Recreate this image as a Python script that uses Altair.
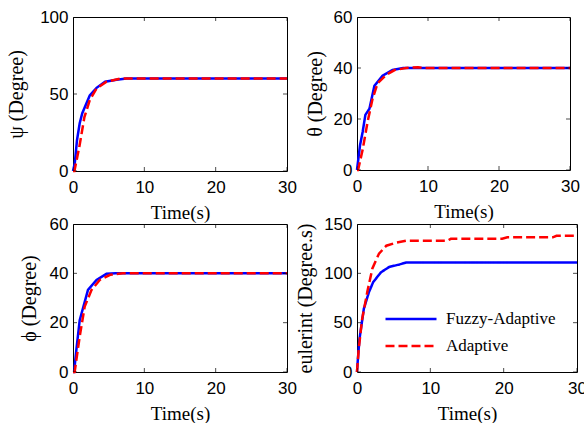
import altair as alt
import pandas as pd

TIME_TICKS = [0, 10, 20, 30]
SERIES = ["Fuzzy-Adaptive", "Adaptive"]
BLUE = "#0000ff"
RED = "#ff0000"

# psi panel
psi_fuzzy_t = [0, 0.25, 0.56, 0.94, 1.3, 2.35, 3.3, 4.5, 6.1, 7.5, 30]
psi_fuzzy_v = [0, 5, 20, 31, 37.5, 49, 54, 58, 59.3, 60, 60]
psi_adapt_t = [0, 0.2, 0.9, 1.6, 2.35, 3.3, 4.7, 6.6, 30]
psi_adapt_v = [0, 0, 16, 35, 46, 53.5, 58, 60, 60]
psi_ticks = [0, 50, 100]

# theta panel
theta_fuzzy_t = [0, 0.42, 0.8, 1.18, 1.75, 2.45, 3.6, 5.0, 6.5, 30]
theta_fuzzy_v = [0, 9.6, 15, 21.6, 24, 33, 37, 39.2, 40, 40]
theta_adapt_t = [0, 0.15, 0.8, 1.5, 2.2, 2.9, 4.1, 5.3, 6.9, 8.6, 9.5, 30]
theta_adapt_v = [0, 0, 8, 19, 28, 34, 37.3, 39.2, 40, 40.3, 40, 40]
theta_ticks = [0, 20, 40, 60]

# phi panel
phi_fuzzy_t = [0, 0.15, 0.47, 0.94, 2.1, 3.3, 4.7, 6.0, 30]
phi_fuzzy_v = [0, 0, 9, 21, 33.3, 37.3, 39.8, 40, 40]
phi_adapt_t = [0, 0.23, 0.94, 1.64, 2.6, 3.75, 5.2, 7.0, 30]
phi_adapt_v = [0, 0, 14.4, 26.5, 33.3, 37.3, 39.4, 40, 40]
phi_ticks = [0, 20, 40, 60]

# eulerint panel
eul_fuzzy_t = [0, 0.1, 0.33, 0.93, 1.63, 2.2, 3.26, 4.4, 5.8, 6.7, 30]
eul_fuzzy_v = [0, 11, 33, 64, 81, 91, 101, 106.5, 109, 111, 111]
eul_adapt_t = [0, 0.23, 0.7, 1.4, 2.1, 3.0, 4.0, 5.3, 6.7, 12.3, 12.8, 19.8, 20.5, 26.7, 27.2, 30]
eul_adapt_v = [0, 23, 53.6, 81, 105, 120, 128, 131, 133, 133, 135, 135, 136.5, 136.5, 138, 138]
eul_ticks = [0, 50, 100, 150]


def series_df(tf, vf, ta, va):
    return pd.DataFrame({
        "t": tf + ta,
        "v": vf + va,
        "s": [SERIES[0]] * len(tf) + [SERIES[1]] * len(ta),
    })


def panel(df, yticks, ytitle, w, h, ypad=8, legend=False):
    ymax = yticks[-1]
    xaxis = alt.Axis(values=TIME_TICKS, title="Time(s)", ticks=False, tickSize=0, domain=False, grid=False,
                     labelFont="Liberation Sans", labelFontSize=17, labelColor="black", labelPadding=8,
                     titleFont="Liberation Serif", titleFontSize=19, titleFontWeight="normal",
                     titleColor="black", titlePadding=8, labelFlush=False)
    yaxis = alt.Axis(values=yticks, title=ytitle, ticks=False, tickSize=0, domain=False, grid=False,
                     labelFont="Liberation Sans", labelFontSize=17, labelColor="black", labelPadding=5,
                     titleFont="Liberation Serif", titleFontSize=20, titleFontWeight="normal",
                     titleColor="black", titlePadding=ypad, labelFlush=False)
    x = alt.X("t:Q", scale=alt.Scale(domain=[0, 30], nice=False, zero=False), axis=xaxis)
    y = alt.Y("v:Q", scale=alt.Scale(domain=[0, ymax], nice=False), axis=yaxis)

    if legend:
        leg = alt.Legend(orient="none", legendX=27, legendY=87, title=None, symbolType="stroke",
                         symbolSize=2601, symbolStrokeWidth=2.5, labelFont="Liberation Serif",
                         labelFontSize=17, labelColor="black", labelOffset=8, rowPadding=10,
                         clipHeight=16, labelLimit=300)
        color = alt.Color("s:N", scale=alt.Scale(domain=SERIES, range=[BLUE, RED]), legend=leg)
        dash = alt.StrokeDash("s:N", scale=alt.Scale(domain=SERIES, range=[[1, 0], [9, 4]]), legend=leg)
        blue = alt.Chart(df).transform_filter(alt.datum.s == SERIES[0]).mark_line(strokeWidth=2.5).encode(
            x=x, y=y, color=color, strokeDash=dash)
        red = alt.Chart(df).transform_filter(alt.datum.s == SERIES[1]).mark_line(strokeWidth=2.5).encode(
            x=x, y=y, color=color, strokeDash=dash)
    else:
        blue = alt.Chart(df).transform_filter(alt.datum.s == SERIES[0]).mark_line(
            strokeWidth=2.5, color=BLUE).encode(x=x, y=y)
        red = alt.Chart(df).transform_filter(alt.datum.s == SERIES[1]).mark_line(
            strokeWidth=2.5, color=RED, strokeDash=[9, 4]).encode(x=x, y=y)

    n = len(yticks)
    xt_df = pd.DataFrame({"t": TIME_TICKS * 2, "v": [0] * 4 + [ymax] * 4})
    yt_df = pd.DataFrame({"t": [0] * n + [30] * n, "v": yticks * 2})
    xt = alt.Chart(xt_df).mark_tick(orient="vertical", size=8, thickness=1, color="black", clip=True).encode(x=x, y=y)
    yt = alt.Chart(yt_df).mark_tick(orient="horizontal", size=8, thickness=1, color="black", clip=True).encode(x=x, y=y)
    return alt.layer(blue, red, xt, yt).properties(width=w, height=h)


p1 = panel(series_df(psi_fuzzy_t, psi_fuzzy_v, psi_adapt_t, psi_adapt_v), psi_ticks, "ψ (Degree)", 214, 154, ypad=13)
p2 = panel(series_df(theta_fuzzy_t, theta_fuzzy_v, theta_adapt_t, theta_adapt_v), theta_ticks, "θ (Degree)", 213, 153, ypad=8)
p3 = panel(series_df(phi_fuzzy_t, phi_fuzzy_v, phi_adapt_t, phi_adapt_v), phi_ticks, "ϕ (Degree)", 214, 148, ypad=10)
p4 = panel(series_df(eul_fuzzy_t, eul_fuzzy_v, eul_adapt_t, eul_adapt_v), eul_ticks, "eulerint (Degree.s)", 220, 148, ypad=8, legend=True)

ind = dict(color="independent", strokeDash="independent")

chart = alt.concat(p1, p2, p3, p4, columns=2, spacing={"row": 53, "column": 70}, bounds="flush").resolve_legend(
    **ind).resolve_scale(**ind).properties(
    autosize=alt.AutoSizeParams(type="none"),
    padding={"left": 73, "top": 17, "right": 511, "bottom": 406},
    background="white",
).configure_view(stroke="black", strokeWidth=1)

chart.save("out.html", embed_options={"renderer": "svg", "actions": False})
